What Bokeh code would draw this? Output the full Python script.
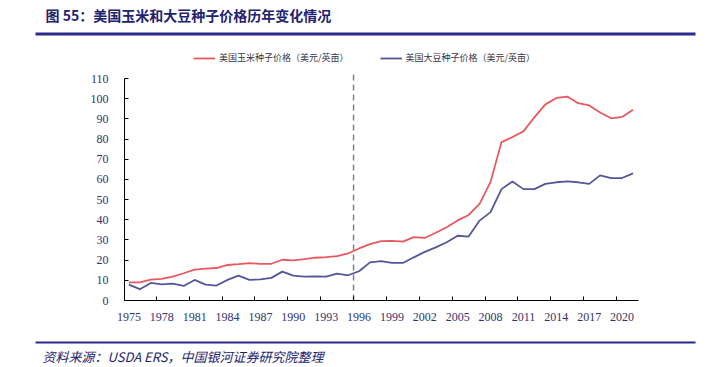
from bokeh.plotting import figure
from bokeh.layouts import column
from bokeh.models import FixedTicker, Range1d, Legend, LegendItem
from bokeh.core.properties import value
from bokeh.embed import file_html
from bokeh.resources import INLINE

# ---- data ----
years = list(range(1975, 2022))
corn = [9.0, 9.0, 10.3, 10.7, 11.8, 13.5, 15.3, 15.8, 16.1, 17.6,
        18.0, 18.5, 18.2, 18.2, 20.2, 19.9, 20.5, 21.2, 21.5, 22.0,
        23.3, 25.8, 27.9, 29.4, 29.6, 29.2, 31.4, 31.0, 33.6, 36.3,
        39.7, 42.4, 47.9, 58.8, 78.5, 81.0, 83.8, 90.8, 97.2, 100.4,
        101.1, 97.8, 96.7, 93.2, 90.3, 91.0, 94.5]
soy = [7.9, 5.6, 8.7, 8.0, 8.4, 7.2, 10.2, 7.9, 7.4, 10.2,
       12.3, 10.2, 10.5, 11.2, 14.3, 12.3, 11.8, 12.0, 11.8, 13.3,
       12.5, 14.5, 18.9, 19.5, 18.6, 18.6, 21.4, 24.1, 26.3, 28.9,
       32.1, 31.7, 39.6, 43.8, 55.2, 59.0, 55.2, 55.2, 57.8, 58.6,
       59.0, 58.6, 57.8, 62.0, 60.7, 60.7, 63.0]
x_label_years = list(range(1975, 2021, 3))
x_tick_marks = [y + 2.5 for y in range(1975, 2020, 3)]
y_ticks = list(range(0, 111, 10))
divider_x = [1995.5]
divider_y0 = [0]
divider_y1 = [113.5]

title_text = "图 55：美国玉米和大豆种子价格历年变化情况"
source_text = "资料来源：USDA ERS，中国银河证券研究院整理"
corn_name = "美国玉米种子价格（美元/英亩）"
soy_name = "美国大豆种子价格（美元/英亩）"

RED = "#E8585E"
BLUE = "#55559A"
NAVY = "#22226E"
RULE = "#2A2A8A"
LABEL = "#33336B"
W = 722
CJK = "Noto Sans CJK SC"


def blank(height, ymax):
    f = figure(width=W, height=height, output_backend="svg", toolbar_location=None,
               x_range=Range1d(0, W), y_range=Range1d(ymax, 0),
               x_axis_type=None, y_axis_type=None, frame_align=False,
               min_border=0, min_border_left=0, min_border_right=0,
               min_border_top=0, min_border_bottom=0)
    f.outline_line_color = None
    f.grid.visible = False
    return f


# ---- header: title + rule (page coordinates) ----
head = blank(40, 40)
head.text(x=[45], y=[14], text=[title_text], text_font=value(CJK),
          text_font_style="bold", text_font_size="14px", text_color=NAVY,
          text_baseline="middle", text_align="left")
head.segment(x0=[35], y0=[33.5], x1=[695], y1=[33.5], line_color=RULE, line_width=3)

# ---- main chart ----
p = figure(width=W, height=298, output_backend="svg", toolbar_location=None,
           x_range=Range1d(1974.6, 2021.5), y_range=Range1d(0, 124.9),
           frame_align=False,
           min_border_left=124, min_border_right=84,
           min_border_top=8, min_border_bottom=38)
p.outline_line_color = None
p.grid.visible = False

p.segment(x0=divider_x, y0=divider_y0, x1=divider_x, y1=divider_y1,
          line_color="#808080", line_width=1.5, line_dash="6 4")
r1 = p.line(years, corn, line_color=RED, line_width=1.8)
r2 = p.line(years, soy, line_color=BLUE, line_width=1.8)

xa = p.xaxis[0]
xa.ticker = FixedTicker(ticks=x_label_years, minor_ticks=x_tick_marks)
xa.major_tick_line_color = None
xa.minor_tick_in = 4
xa.minor_tick_out = 0
xa.minor_tick_line_color = "black"
xa.axis_line_color = "black"
xa.major_label_text_font = "Liberation Serif"
xa.major_label_text_font_size = "12px"
xa.major_label_text_color = LABEL
xa.major_label_standoff = 6

ya = p.yaxis[0]
ya.ticker = FixedTicker(ticks=y_ticks)
ya.bounds = (0, 110)
ya.major_tick_in = 4
ya.major_tick_out = 0
ya.minor_tick_line_color = None
ya.axis_line_color = "black"
ya.major_label_text_font = "Liberation Serif"
ya.major_label_text_font_size = "12px"
ya.major_label_text_color = LABEL
ya.major_label_standoff = 16

legend = Legend(items=[LegendItem(label=corn_name, renderers=[r1]),
                       LegendItem(label=soy_name, renderers=[r2])],
                orientation="horizontal", location=(69, 236),
                padding=0, margin=0, spacing=31,
                glyph_width=22, glyph_height=12, label_height=12,
                label_standoff=4,
                border_line_color=None, background_fill_alpha=0,
                label_text_font=CJK,
                label_text_font_size="9px", label_text_color="#333344")
p.add_layout(legend, "center")

# ---- footer: rule + source ----
foot = blank(29, 29)
foot.segment(x0=[35], y0=[4], x1=[695], y1=[4], line_color=RULE, line_width=2)
foot.text(x=[42], y=[18], text=[source_text], text_font=value(CJK),
          text_font_style="italic", text_font_size="13px", text_color=NAVY,
          text_baseline="middle", text_align="left")

layout = column(head, p, foot, spacing=0)
open("out.html", "w").write(file_html(layout, INLINE))
